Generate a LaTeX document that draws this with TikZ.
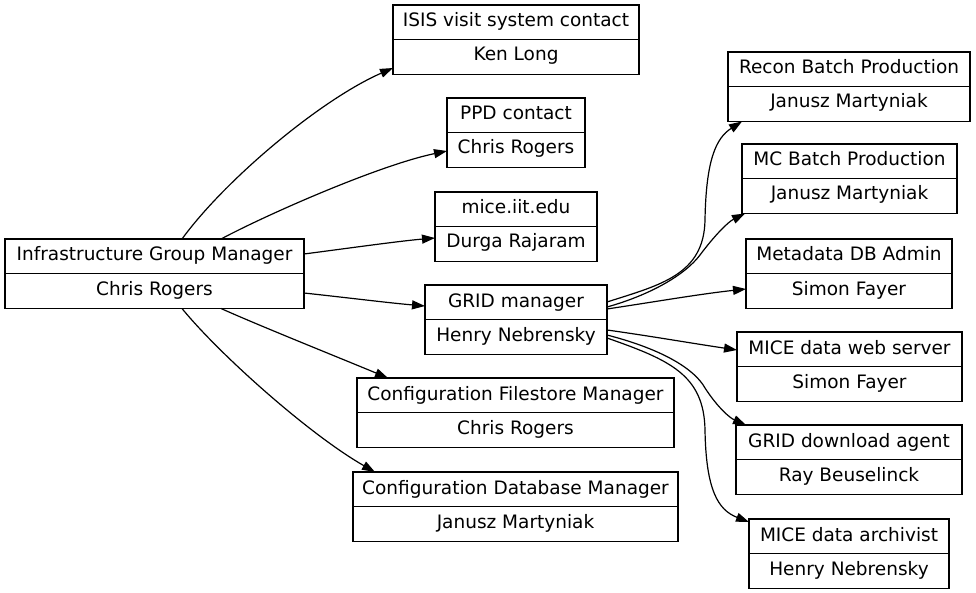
\documentclass[tikz,border=0pt]{standalone}
\usepackage{fontspec}
\setmainfont{DejaVu Sans}
\usetikzlibrary{arrows.meta}
\tikzset{
  recbox/.style={draw, line width=1.2pt, minimum height=69.5pt, inner sep=0pt, outer sep=0pt, anchor=north},
  recline/.style={line width=1.2pt},
  rectext/.style={inner sep=0pt, anchor=base, font=\fontsize{18.5}{22}\selectfont},
  conn/.style={line width=1.2pt, -{Triangle[length=13pt,width=9pt]}}
}
\newcommand\recnode[6]{%
  \node[recbox, minimum width=#4pt] (#1) at (#2,#3) {};
  \draw[recline] (#1.west) -- (#1.east);
  \node[rectext] (#1-a) at ([yshift=-22pt]#1.north) {#5};
  \node[rectext] (#1-b) at ([yshift=-56pt]#1.north) {#6};
}
\begin{document}
\begin{tikzpicture}[x=1pt,y=-1pt]
\useasboundingbox (0,0) rectangle (976,593);
% left
\recnode{infra}{154.5}{239}{299}{Infrastructure Group Manager}{Chris Rogers}
% middle
\recnode{isis}{516}{5}{246}{ISIS visit system contact}{Ken Long}
\recnode{ppd}{516}{98}{138}{PPD contact}{Chris Rogers}
\recnode{mice}{516}{192}{162}{mice.iit.edu}{Durga Rajaram}
\recnode{grid}{516}{285}{182}{GRID manager}{Henry Nebrensky}
\recnode{cfs}{515.5}{378}{317}{Configuration Filestore Manager}{Chris Rogers}
\recnode{cdb}{515.5}{472}{325}{Configuration Database Manager}{Janusz Martyniak}
% right
\recnode{recon}{849}{52}{242}{Recon Batch Production}{Janusz Martyniak}
\recnode{mc}{849.5}{144}{215}{MC Batch Production}{Janusz Martyniak}
\recnode{meta}{849}{239}{206}{Metadata DB Admin}{Simon Fayer}
\recnode{web}{849.5}{332}{225}{MICE data web server}{Simon Fayer}
\recnode{dl}{849}{425}{226}{GRID download agent}{Ray Beuselinck}
\recnode{arc}{849}{519}{200}{MICE data archivist}{Henry Nebrensky}
% edges from infra
\draw[conn] ([xshift=177pt]infra.north west) .. controls (225,180) and (320,100) .. ([yshift=-63pt]isis.north west);
\draw[conn] ([xshift=216pt]infra.north west) .. controls (270,213) and (380,165) .. ([yshift=-53pt]ppd.north west);
\draw[conn] ([yshift=-15pt]infra.north east) .. controls (350,248) and (400,241) .. ([yshift=-46pt]mice.north west);
\draw[conn] ([yshift=-54pt]infra.north east) .. controls (350,298) and (390,303) .. ([yshift=-21pt]grid.north west);
\draw[conn] ([xshift=216pt]infra.south west) .. controls (260,326) and (340,358) .. ([xshift=31pt]cfs.north west);
\draw[conn] ([xshift=177pt]infra.south west) .. controls (220,355) and (310,435) .. ([xshift=22pt]cdb.north west);
% edges from grid
\draw[conn] ([yshift=-17pt]grid.north east) .. controls (660,285) and (704,275) .. (705,220) .. controls (706,160) and (716,138) .. ([xshift=14pt]recon.south west);
\draw[conn] ([yshift=-22pt]grid.north east) .. controls (650,295) and (685,275) .. (700,255) .. controls (715,235) and (728,222) .. ([xshift=3pt]mc.south west);
\draw[conn] ([yshift=-24pt]grid.north east) .. controls (660,301) and (700,294) .. ([yshift=-50pt]meta.north west);
\draw[conn] ([yshift=-45pt]grid.north east) .. controls (650,336) and (690,343) .. ([yshift=-18pt]web.north west);
\draw[conn] ([yshift=-50pt]grid.north east) .. controls (665,350) and (695,370) .. (705,388) .. controls (718,408) and (730,418) .. ([xshift=10pt]dl.north west);
\draw[conn] ([yshift=-53pt]grid.north east) .. controls (670,360) and (704,375) .. (705,430) .. controls (706,490) and (718,510) .. ([yshift=-3pt]arc.north west);
\end{tikzpicture}
\end{document}
